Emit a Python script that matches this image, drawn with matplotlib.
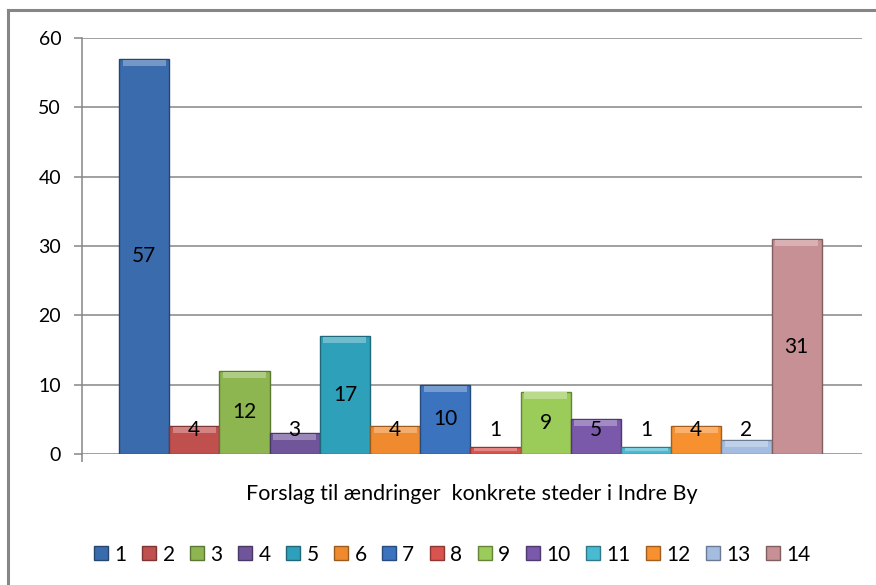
import matplotlib.pyplot as plt
from matplotlib.patches import Patch
from matplotlib.lines import Line2D
from matplotlib.colors import to_rgb

plt.rcParams['font.family'] = ['Lato', 'DejaVu Sans']

series = ['1', '2', '3', '4', '5', '6', '7', '8', '9', '10', '11', '12', '13', '14']
values = [57, 4, 12, 3, 17, 4, 10, 1, 9, 5, 1, 4, 2, 31]
colors = ['#3A6BAD', '#C0504D', '#8DB650', '#70559A', '#2FA0BA', '#F08A2E',
          '#3B73BF', '#D9534F', '#9BCB59', '#7A58AA', '#48BAD2', '#F7902E',
          '#A3BCE0', '#C69094']
xlabel = 'Forslag til ændringer  konkrete steder i Indre By'


def shade(c, f):
    r, g, b = to_rgb(c)
    if f > 0:
        return (r + (1 - r) * f, g + (1 - g) * f, b + (1 - b) * f)
    return (r * (1 + f), g * (1 + f), b * (1 + f))


fig = plt.figure(figsize=(8.76, 5.85), dpi=100)
ax = fig.add_axes([0.0936, 0.2239, 0.8904, 0.711])

x = list(range(len(values)))
ax.bar(x, values, width=1.0, color=colors,
       edgecolor=[shade(c, -0.35) for c in colors], linewidth=1.0, zorder=3)
# bevel highlight on top of each bar
tops = [min(0.9, v * 0.45) for v in values]
ax.bar(x, tops, width=0.86, bottom=[v - t - 0.12 for v, t in zip(values, tops)],
       color=[shade(c, 0.3) for c in colors], linewidth=0, zorder=4)

for xi, v in zip(x, values):
    ax.text(xi, max(v / 2, 3.4), str(v), ha='center', va='center',
            fontsize=15, color='black', zorder=5)

ax.set_xlim(-1.237, 14.3)
ax.set_ylim(0, 60)
ax.set_yticks(range(0, 61, 10))
ax.yaxis.grid(True, color='#868686', linewidth=1.1, zorder=0)
ax.set_xticks([-1.237])
ax.set_xticklabels([''])
ax.tick_params(axis='both', colors='#868686', length=6, width=1.1,
               labelcolor='black', labelsize=14)
ax.tick_params(axis='y', pad=9)
for s in ['top', 'right', 'bottom']:
    ax.spines[s].set_visible(False)
ax.spines['left'].set_color('#868686')
ax.spines['left'].set_linewidth(1.1)

ax.set_xlabel(xlabel, fontsize=15.5, labelpad=12)

handles = [Patch(facecolor=c, edgecolor=shade(c, -0.35)) for c in colors]
fig.legend(handles, series, loc='center', bbox_to_anchor=(0.5166, 0.052),
           ncol=14, frameon=False, fontsize=15, handlelength=0.67,
           handleheight=0.67, handletextpad=0.3, columnspacing=0.75)

# outer chart frame
fig.add_artist(Line2D([8 / 876, 8 / 876], [0, 1 - 10 / 585], color='#868686', lw=2.2))
fig.add_artist(Line2D([8 / 876, 1], [1 - 10 / 585, 1 - 10 / 585], color='#868686', lw=2.2))

fig.savefig('out.png', dpi=100)
